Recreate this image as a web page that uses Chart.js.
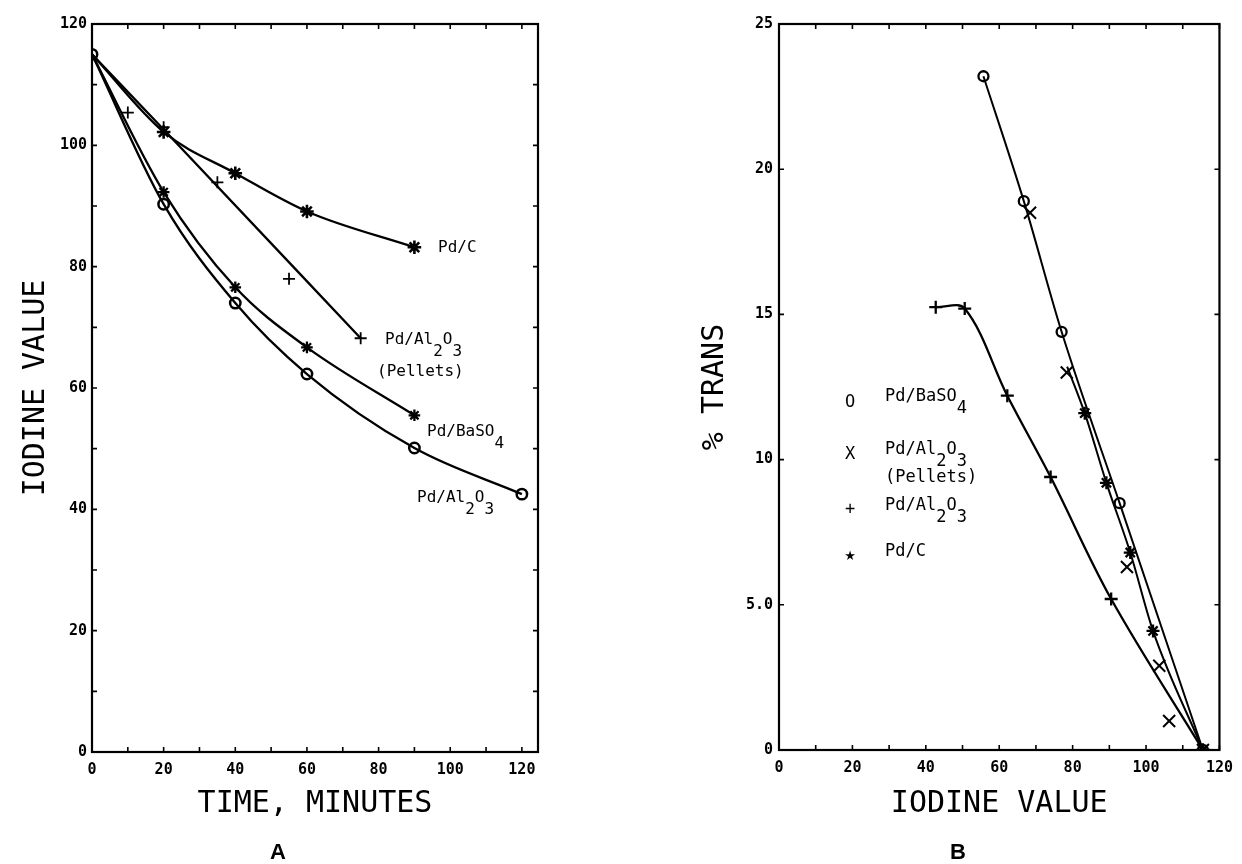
<!DOCTYPE html>
<html>
<head>
<meta charset="utf-8">
<script src="https://cdn.jsdelivr.net/npm/chart.js@4"></script>
<style>
  html, body { margin: 0; padding: 0; background: #fff; }
  #wrap { position: relative; width: 1242px; height: 864px; }
  #chartA { position: absolute; left: 0; top: 0; }
  #chartB { position: absolute; left: 620px; top: 0; }
</style>
</head>
<body>
<div id="wrap">
  <canvas id="chartA" width="620" height="864"></canvas>
  <canvas id="chartB" width="622" height="864"></canvas>
</div>
<script>
// --- Panel A: iodine value vs time ---
const timeAl2o3 = [0, 20, 40, 60, 90, 120];
const ivAl2o3 = [115, 90.3, 74, 62.3, 50.1, 42.5];
const timeBaso4 = [0, 20, 40, 60, 90];
const ivBaso4 = [115, 92.3, 76.6, 66.7, 55.5];
const timePdC = [0, 20, 40, 60, 90];
const ivPdC = [115, 102.2, 95.4, 89.1, 83.2];
const timePelletsFit = [0, 20, 75];
const ivPelletsFit = [115, 102.6, 68.2];
const timePellets = [10, 20, 35, 55, 75];
const ivPellets = [105.4, 103, 93.9, 78, 68.2];

// --- Panel B: % trans vs iodine value ---
const ivBaso4B = [55.7, 66.7, 77.0, 92.8, 115.5];
const transBaso4 = [23.2, 18.9, 14.4, 8.5, 0];
const ivPdCB = [78.5, 83.3, 89.2, 95.7, 101.9, 115.5];
const transPdC = [13.2, 11.6, 9.2, 6.8, 4.1, 0];
const ivAl2o3B = [42.7, 50.6, 62.2, 74.0, 90.5, 115.5];
const transAl2o3 = [15.25, 15.2, 12.2, 9.4, 5.2, 0];
const ivPelletsB = [68.4, 78.4, 94.8, 103.6, 106.3, 115.5];
const transPellets = [18.5, 13.0, 6.3, 2.9, 1.0, 0];

const tickFont = { family: "DejaVu Sans Mono", size: 15, weight: "bold" };
const titleFont = { family: "DejaVu Sans Mono", size: 30, lineHeight: 1 };
const noteFont = "16px 'DejaVu Sans Mono'";
const legendFont = "17px 'DejaVu Sans Mono'";

const pts = (xs, ys) => xs.map((x, i) => ({ x, y: ys[i] }));

// frame, inward ticks and the text notes inside the plot
const frameTicks = {
  id: "frameTicks",
  afterDraw(chart, args, opts) {
    const { ctx, chartArea: a, scales: { x, y } } = chart;
    ctx.save();
    ctx.strokeStyle = "#000";
    ctx.lineWidth = 2.2;
    ctx.strokeRect(a.left, a.top, a.right - a.left, a.bottom - a.top);
    ctx.lineWidth = 1.6;
    ctx.beginPath();
    x.ticks.forEach(t => {
      const px = x.getPixelForValue(t.value);
      ctx.moveTo(px, a.bottom); ctx.lineTo(px, a.bottom - 5);
      ctx.moveTo(px, a.top); ctx.lineTo(px, a.top + 5);
    });
    y.ticks.forEach(t => {
      const py = y.getPixelForValue(t.value);
      ctx.moveTo(a.left, py); ctx.lineTo(a.left + 5, py);
      ctx.moveTo(a.right, py); ctx.lineTo(a.right - 5, py);
    });
    ctx.stroke();

    ctx.fillStyle = "#000";
    ctx.textBaseline = "middle";
    (opts.notes || []).forEach(n => {
      ctx.font = n.font || noteFont;
      ctx.textAlign = n.align || "left";
      let cx = n.x;
      n.parts.forEach(([txt, sub]) => {
        ctx.fillText(txt, cx, n.y + (sub ? n.sub || 12 : 0));
        cx += ctx.measureText(txt).width;
      });
    });
    if (opts.panel) {
      ctx.font = "bold 22px 'Liberation Sans'";
      ctx.textAlign = "center";
      ctx.fillText(opts.panel.text, opts.panel.x, opts.panel.y);
    }
    ctx.restore();
  }
};

// tick values every `step` from 0 up to `last`, whatever the axis max is
function stepTicks(step, last) {
  return scale => {
    const out = [];
    for (let v = 0; v <= last + 1e-9; v += step) out.push({ value: v });
    scale.ticks = out;
  };
}

function axis(opts) {
  return {
    type: "linear",
    min: opts.min, max: opts.max,
    grid: { display: false, drawTicks: false },
    border: { display: false },
    ticks: {
      stepSize: opts.step, font: tickFont, color: "#000", padding: opts.pad,
      maxRotation: 0, autoSkip: false,
      callback: opts.label
    },
    title: { display: true, text: opts.title, font: titleFont, color: "#000", padding: opts.titlePad },
    afterBuildTicks: stepTicks(opts.step, opts.last),
    afterFit: opts.fit
  };
}

function line(data, style, radius, extra) {
  return Object.assign({
    data, showLine: true, borderColor: "#000", borderWidth: 2.3,
    pointStyle: style, pointRadius: radius, pointBorderColor: "#000",
    pointBorderWidth: 2.3, pointBackgroundColor: "rgba(0,0,0,0)",
    cubicInterpolationMode: "monotone"
  }, extra || {});
}

// first point of the panel A curves only carries the circle
const noFirst = (n, r) => Array.from({ length: n }, (_, i) => (i === 0 ? 0 : r));

new Chart(document.getElementById("chartA"), {
  type: "scatter",
  data: {
    datasets: [
      line(pts(timeAl2o3, ivAl2o3), "circle", 5.2, { pointBorderWidth: 2.5 }),
      line(pts(timeBaso4, ivBaso4), "star", noFirst(timeBaso4.length, 5.8)),
      line(pts(timePdC, ivPdC), "star", noFirst(timePdC.length, 6.8), { pointBorderWidth: 2.6 }),
      line(pts(timePelletsFit, ivPelletsFit), "cross", 0),
      line(pts(timePellets, ivPellets), "cross", 6, { showLine: false, pointBorderWidth: 1.8 })
    ]
  },
  options: {
    responsive: false,
    animation: false,
    layout: { padding: { top: 24, left: 0, right: 82, bottom: 0 } },
    plugins: {
      legend: { display: false },
      tooltip: { enabled: false },
      frameTicks: {
        panel: { text: "A", x: 278, y: 853 },
        notes: [
          { x: 438, y: 248, parts: [["Pd/C"]] },
          { x: 385, y: 340, parts: [["Pd/Al"], ["2", true], ["O"], ["3", true]] },
          { x: 377, y: 372, parts: [["(Pellets)"]] },
          { x: 427, y: 432, parts: [["Pd/BaSO"], ["4", true]] },
          { x: 417, y: 498, parts: [["Pd/Al"], ["2", true], ["O"], ["3", true]] }
        ]
      }
    },
    scales: {
      x: axis({ min: 0, max: 124.5, step: 10, last: 120, pad: 9, title: "TIME, MINUTES",
        titlePad: { top: 0, bottom: 45 },
        label: v => (v % 20 === 0 ? String(v) : ""),
        fit: s => { s.height = 112; } }),
      y: axis({ min: 0, max: 120, step: 10, last: 120, pad: 5, title: "IODINE VALUE",
        titlePad: { top: 21, bottom: 0 },
        label: v => (v % 20 === 0 ? String(v) : ""),
        fit: s => { s.width = 92; } })
    }
  },
  plugins: [frameTicks]
});

new Chart(document.getElementById("chartB"), {
  type: "scatter",
  data: {
    datasets: [
      line(pts(ivBaso4B, transBaso4), "circle", 5, { borderWidth: 2 }),
      line(pts(ivPdCB, transPdC), "star", noFirst(ivPdCB.length, 6.5), { borderWidth: 2 }),
      line(pts(ivAl2o3B, transAl2o3), "cross", 6.5, { borderWidth: 2.3, cubicInterpolationMode: "default", tension: 0.35 }),
      line(pts(ivPelletsB, transPellets), "crossRot", 8.5, { showLine: false, pointBorderWidth: 2 })
    ]
  },
  options: {
    responsive: false,
    animation: false,
    layout: { padding: { top: 24, left: 0, right: 18, bottom: 0 } },
    plugins: {
      legend: { display: false },
      tooltip: { enabled: false },
      frameTicks: {
        panel: { text: "B", x: 338, y: 853 },
        notes: [
          { x: 230, y: 403, font: legendFont, align: "center", parts: [["O"]] },
          { x: 265, y: 397, font: legendFont, parts: [["Pd/BaSO"], ["4", true]] },
          { x: 230, y: 455, font: legendFont, align: "center", parts: [["X"]] },
          { x: 265, y: 450, font: legendFont, parts: [["Pd/Al"], ["2", true], ["O"], ["3", true]] },
          { x: 265, y: 478, font: legendFont, parts: [["(Pellets)"]] },
          { x: 230, y: 510, font: legendFont, align: "center", parts: [["+"]] },
          { x: 265, y: 506, font: legendFont, parts: [["Pd/Al"], ["2", true], ["O"], ["3", true]] },
          { x: 230, y: 557, font: "13px 'DejaVu Sans'", align: "center", parts: [["\u2605"]] },
          { x: 265, y: 552, font: legendFont, parts: [["Pd/C"]] }
        ]
      }
    },
    scales: {
      x: axis({ min: 0, max: 120, step: 10, last: 120, pad: 9, title: "IODINE VALUE",
        titlePad: { top: 0, bottom: 45 },
        label: v => (v % 20 === 0 ? String(v) : ""),
        fit: s => { s.height = 114; } }),
      y: axis({ min: 0, max: 25, step: 5, last: 25, pad: 6, title: "% TRANS",
        titlePad: { top: 80, bottom: 0 },
        label: v => (v === 5 ? "5.0" : String(v)),
        fit: s => { s.width = 159; } })
    }
  },
  plugins: [frameTicks]
});
</script>
</body>
</html>
